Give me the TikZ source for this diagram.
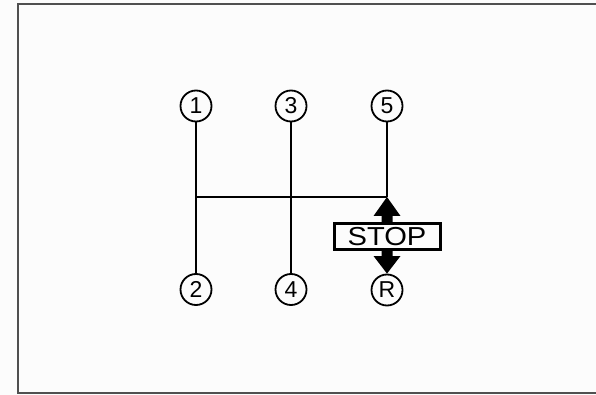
\documentclass[tikz,border=0pt]{standalone}
\usepackage{fontspec}
\setmainfont{Liberation Sans}
\usetikzlibrary{calc}
\definecolor{framegray}{HTML}{505050}
\definecolor{bg}{HTML}{FCFCFC}
\begin{document}
\begin{tikzpicture}[x=1pt,y=-1pt,
  gear/.style={circle,draw,line width=1.8pt,minimum size=31pt,inner sep=0pt,font=\fontsize{23}{23}\selectfont},
  gate/.style={line width=2.5pt},
  stopbox/.style={draw,line width=3pt,minimum width=106pt,minimum height=26pt,inner sep=0pt,font=\fontsize{26}{26}\selectfont}]
\useasboundingbox (0,0) rectangle (596,395);
\fill[bg] (0,0) rectangle (596,395);
\draw[framegray,line width=1.6pt] (600,4) -- (18,4) -- (18,393) -- (600,393);
\node[gear] (g1) at (196,106) {1};
\node[gear] (g3) at (291,106) {3};
\node[gear] (g5) at (387,106) {5};
\node[gear] (g2) at (196,289.5) {2};
\node[gear] (g4) at (291,289.5) {4};
\node[gear] (gR) at (387,290) {R};
\coordinate (jL) at (196,197);
\coordinate (jR) at (387,197);
\draw[gate] (g1) -- (g2);
\draw[gate] (g3) -- (g4);
\draw[gate] (g5.south) -- (jR);
\draw[gate] (jL) -- (jR);
\node[stopbox] (stop) at (387,236.5) {\scalebox{1.12}[1]{STOP}};
\fill ($(stop.north)+(-5.5,1)$) -- ++(0,-7) -- ++(-8,0) -- (jR) -- ($(stop.north)+(13.5,-6)$) -- ++(-8,0) -- ++(0,7) -- cycle;
\fill ($(stop.south)+(-5.5,-1)$) -- ++(0,6) -- ++(-8,0) -- (gR.north) -- ($(stop.south)+(13.5,5)$) -- ++(-8,0) -- ++(0,-6) -- cycle;
\end{tikzpicture}
\end{document}
